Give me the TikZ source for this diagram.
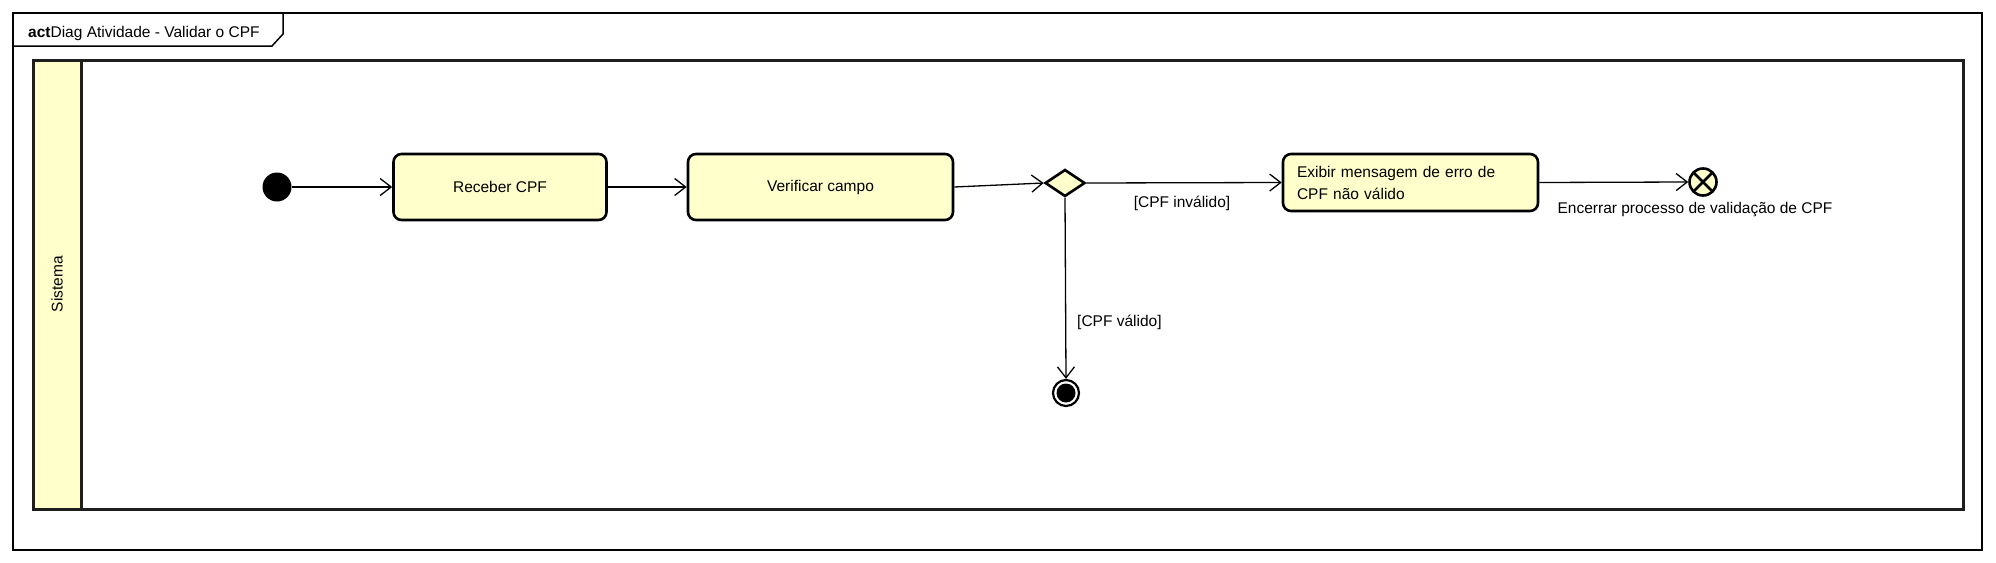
\documentclass[tikz,border=0pt]{standalone}
\usepackage{fontspec}
\setmainfont{Liberation Sans}
\usetikzlibrary{arrows.meta,shapes.geometric}
\definecolor{actfill}{RGB}{255,255,204}
\definecolor{lanegray}{RGB}{30,30,30}
\tikzset{
    umltext/.style={font=\fontsize{15.5}{22}\selectfont},
    action/.style={umltext, draw, line width=2.6pt, rounded corners=8pt, fill=actfill, inner sep=0pt},
    flow/.style={->, line width=1.3pt},
}
\begin{document}
\begin{tikzpicture}[x=1pt, y=-1pt, >={Straight Barb[length=11pt,width=17pt,line width=1.3pt]}]
    \useasboundingbox (0,0) rectangle (1996,562);

    \coordinate (frameNW) at (13,13);
    \coordinate (frameSE) at (1982,550);
    \coordinate (laneNW) at (33,60);
    \coordinate (laneSE) at (1963,509);
    \coordinate (headSE) at (81,509);

    \draw[line width=1.5pt] (frameNW) rectangle (frameSE);
    \draw[line width=1.5pt] (13,46) -- (272,46) -- (283,34) -- (283,13);
    \node[umltext, anchor=base west, inner sep=0pt] (title) at (28,37) {\textbf{act}Diag Atividade - Validar o CPF};

    \draw[lanegray, line width=3pt, fill=actfill] (laneNW) rectangle (headSE);
    \draw[lanegray, line width=3pt] (laneNW) rectangle (laneSE);
    \node[umltext, rotate=90] (lane) at (57,284) {Sistema};

    \node[circle, fill=black, inner sep=0pt, minimum size=29pt] (inicio) at (277,187) {};
    \node[action, minimum width=213pt, minimum height=66pt] (receber) at (500,187) {Receber CPF};
    \node[action, minimum width=265pt, minimum height=66pt] (verificar) at (820.5,187) {Verificar campo};
    \node[diamond, draw, line width=2.6pt, fill=actfill, inner sep=0pt, minimum width=40pt, minimum height=27pt] (decisao) at (1065,183) {};
    \node[action, minimum width=255pt, minimum height=57pt, text width=227pt, align=left] (exibir) at (1410.5,182.5) {\raisebox{-7pt}{\parbox[b]{227pt}{Exibir mensagem de erro de\\CPF não válido}}};
    \node[circle, draw, line width=2.6pt, fill=actfill, inner sep=0pt, minimum size=27pt,
        path picture={\draw[black, line width=2.6pt] ([shift={(-12,-12)}]path picture bounding box.center) -- ([shift={(12,12)}]path picture bounding box.center);
                      \draw[black, line width=2.6pt] ([shift={(-12,12)}]path picture bounding box.center) -- ([shift={(12,-12)}]path picture bounding box.center);}] (encerrar) at (1703,182) {};
    \node[circle, draw, line width=2.2pt, fill=white, inner sep=0pt, minimum size=26pt,
        path picture={\fill[black] (path picture bounding box.center) circle (9.5pt);}] (fim) at (1066,393) {};

    \draw[flow] (inicio) -- (receber);
    \draw[flow] (receber) -- (verificar);
    \draw[flow] (verificar.east) -- (decisao.west);
    \draw[flow] (decisao.east) -- (exibir.west);
    \draw[flow] (exibir.east) -- (encerrar.west);
    \draw[flow] (decisao.south) -- (fim.north);

    \node[umltext] (guardInvalido) at (1182,203) {[CPF inválido]};
    \node[umltext, anchor=west, inner sep=0pt] (guardValido) at (1077,322) {[CPF válido]};
    \node[umltext] (encerrarLabel) at (1695,210) {Encerrar processo de validação de CPF};
\end{tikzpicture}
\end{document}
